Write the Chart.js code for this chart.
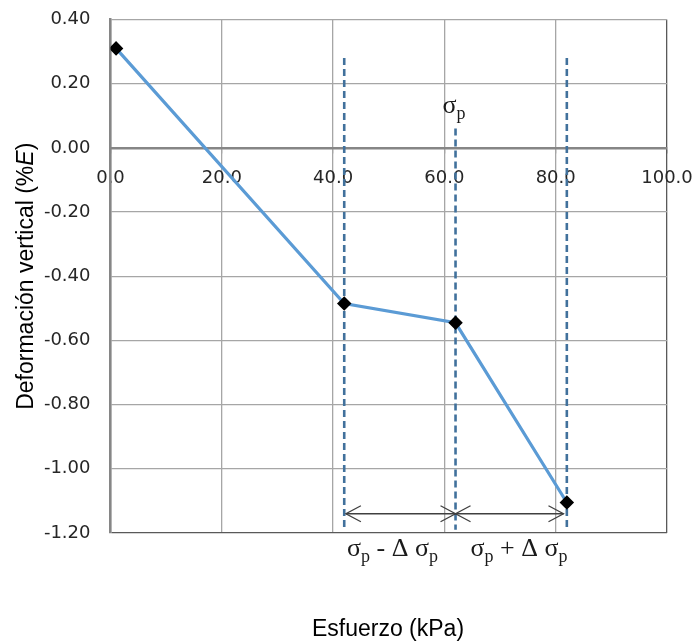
<!DOCTYPE html>
<html>
<head>
<meta charset="utf-8">
<script src="https://cdn.jsdelivr.net/npm/chart.js@4.4.1/dist/chart.umd.min.js"></script>
<style>
  html, body { margin: 0; padding: 0; background: #fff; }
  canvas { display: block; }
</style>
</head>
<body>
<canvas id="chart" width="695" height="641"></canvas>
<script>
// curve: stress (kPa) vs vertical deformation (%E)
const stressValues = [1, 42, 62, 82];
const deformationValues = [0.31, -0.485, -0.545, -1.105];

// dashed reference lines (σp - Δσp, σp, σp + Δσp)
const markerStress = [42, 62, 82];
const markerTop = [0.28, 0.06, 0.28];
const markerBottom = [-1.19, -1.19, -1.19];

// double arrows under the curve
const arrowSpans = [[42.3, 62], [62, 81.4]];
const arrowLevel = -1.14;

const xTicks = [0, 20, 40, 60, 80, 100];
const yTicks = [-1.2, -1.0, -0.8, -0.6, -0.4, -0.2, 0, 0.2, 0.4];

const xTitle = "Esfuerzo (kPa)";
const yTitle = ["Deformación vertical (%", "E", ")"];

const markerSets = markerStress.map((s, i) => ({
  data: [{ x: s, y: markerTop[i] }, { x: s, y: markerBottom[i] }],
  borderColor: "#41719c",
  borderWidth: 2.6,
  borderDash: [7, 4],
  pointRadius: 0,
  fill: false,
}));

const serif = "'Liberation Serif', 'DejaVu Serif', serif";

// draw σ with a subscript p etc.
const drawParts = (ctx, parts, x, y) => {
  parts.forEach(([txt, sub]) => {
    ctx.font = sub ? `18px ${serif}` : `26px ${serif}`;
    ctx.fillText(txt, x, sub ? y + 6 : y);
    x += ctx.measureText(txt).width;
  });
};

const arrowHead = (ctx, px, py, dir) => {
  ctx.beginPath();
  ctx.moveTo(px + dir * 15, py - 8);
  ctx.lineTo(px, py);
  ctx.lineTo(px + dir * 15, py + 8);
  ctx.stroke();
};

const overlay = {
  id: "overlay",
  afterDatasetsDraw(chart) {
    const { ctx } = chart;
    const xs = chart.scales.x;
    const ys = chart.scales.y;
    ctx.save();

    ctx.strokeStyle = "#404040";
    ctx.lineWidth = 1.3;
    const ay = ys.getPixelForValue(arrowLevel);
    arrowSpans.forEach(([a, b]) => {
      const x1 = xs.getPixelForValue(a);
      const x2 = xs.getPixelForValue(b);
      ctx.beginPath();
      ctx.moveTo(x1, ay);
      ctx.lineTo(x2, ay);
      ctx.stroke();
      arrowHead(ctx, x1, ay, 1);
      arrowHead(ctx, x2, ay, -1);
    });

    ctx.fillStyle = "#1a1a1a";
    ctx.textBaseline = "alphabetic";
    ctx.textAlign = "left";
    drawParts(ctx, [["σ", 0], ["p", 1]], xs.getPixelForValue(62) - 13, ys.getPixelForValue(0.11));
    const by = ys.getPixelForValue(-1.271);
    drawParts(ctx, [["σ", 0], ["p", 1], [" - Δ ", 0], ["σ", 0], ["p", 1]], xs.getPixelForValue(42.5), by);
    drawParts(ctx, [["σ", 0], ["p", 1], [" + Δ ", 0], ["σ", 0], ["p", 1]], xs.getPixelForValue(64.7), by);

    // axis titles
    ctx.fillStyle = "#000";
    ctx.font = "23px 'Liberation Sans', Arial, sans-serif";
    ctx.textAlign = "center";
    ctx.fillText(xTitle, 388, 636);

    ctx.translate(33, (chart.chartArea.top + chart.chartArea.bottom) / 2);
    ctx.rotate(-Math.PI / 2);
    const fonts = ["23px 'Liberation Sans', Arial, sans-serif", "italic 23px 'Liberation Sans', Arial, sans-serif", "23px 'Liberation Sans', Arial, sans-serif"];
    let total = 0;
    yTitle.forEach((t, i) => { ctx.font = fonts[i]; total += ctx.measureText(t).width; });
    let tx = -total / 2;
    ctx.textAlign = "left";
    yTitle.forEach((t, i) => {
      ctx.font = fonts[i];
      ctx.fillText(t, tx, 0);
      tx += ctx.measureText(t).width;
    });
    ctx.restore();
  },
};

const tickFont = { family: "'DejaVu Sans', sans-serif", size: 18 };
const darkLine = "#595959";
const gridLine = "#a6a6a6";

// keep the plot box where the padding puts it
const noPadding = (axis) => {
  axis.paddingTop = 0;
  axis.paddingBottom = 0;
  axis.paddingLeft = 0;
  axis.paddingRight = 0;
};

new Chart(document.getElementById("chart"), {
  type: "line",
  data: {
    datasets: [
      {
        data: stressValues.map((s, i) => ({ x: s, y: deformationValues[i] })),
        borderColor: "#5b9bd5",
        borderWidth: 3.2,
        pointStyle: "rectRot",
        pointRadius: 5,
        pointBackgroundColor: "#000",
        pointBorderColor: "#000",
        fill: false,
      },
      ...markerSets,
    ],
  },
  options: {
    responsive: false,
    animation: false,
    devicePixelRatio: 1,
    layout: { padding: { top: 19.5, right: 28, bottom: 108, left: 0 } },
    plugins: { legend: { display: false }, tooltip: { enabled: false } },
    scales: {
      x: {
        type: "linear",
        position: { y: 0 },
        min: 0,
        max: 100,
        afterBuildTicks: (axis) => { axis.ticks = xTicks.map((v) => ({ value: v })); },
        afterFit: noPadding,
        ticks: { font: tickFont, color: "#262626", padding: 16, maxRotation: 0, callback: (v) => v.toFixed(1) },
        grid: {
          color: (c) => (c.tick && c.tick.value === 100 ? darkLine : gridLine),
          lineWidth: 1.3,
          tickLength: 4,
        },
        border: { color: "#868686", width: 2.5 },
      },
      y: {
        type: "linear",
        min: -1.2,
        max: 0.4,
        afterBuildTicks: (axis) => { axis.ticks = yTicks.map((v) => ({ value: v })); },
        afterFit: (axis) => { noPadding(axis); axis.width = 110.5; },
        ticks: { font: tickFont, color: "#262626", padding: 20, callback: (v) => v.toFixed(2) },
        grid: {
          color: (c) => (c.tick && (Math.abs(c.tick.value + 1.2) < 1e-6) ? darkLine : gridLine),
          lineWidth: 1.3,
          drawTicks: false,
        },
        border: { color: "#868686", width: 2.5 },
      },
    },
  },
  plugins: [overlay],
});
</script>
</body>
</html>
